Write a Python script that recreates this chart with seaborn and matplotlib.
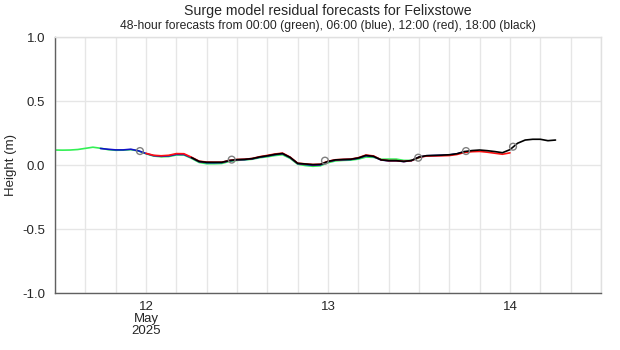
import numpy as np
import pandas as pd
import matplotlib
matplotlib.use("Agg")
import matplotlib.pyplot as plt
import matplotlib.transforms as mtransforms
import seaborn as sns

# --- DATA (hours from 12 May 2025 00:00, height in m) ---
green_start = 0
green_vals = [0.117, 0.116, 0.117, 0.121, 0.130, 0.139, 0.131, 0.120, 0.115, 0.116,
              0.120, 0.110, 0.088, 0.070, 0.064, 0.066, 0.078, 0.078, 0.052, 0.020,
              0.010, 0.010, 0.012, 0.028, 0.036, 0.040, 0.045, 0.057, 0.064, 0.074,
              0.080, 0.052, 0.006, -0.004, -0.010, -0.006, 0.018, 0.032, 0.036, 0.038,
              0.046, 0.062, 0.060, 0.045, 0.046, 0.046, 0.036, 0.036, 0.056]

blue_start = 6
blue_vals = [0.129, 0.123, 0.118, 0.118, 0.123, 0.111, 0.090, 0.073, 0.068, 0.071,
             0.083, 0.082, 0.057, 0.026, 0.018, 0.018, 0.019, 0.033, 0.040, 0.042,
             0.048, 0.061, 0.070, 0.081, 0.088, 0.058, 0.011, 0.004, -0.002, 0.001,
             0.026, 0.038, 0.041, 0.043, 0.053, 0.072, 0.066, 0.039, 0.033, 0.033,
             0.027, 0.034, 0.061, 0.072, 0.074, 0.076, 0.079, 0.087, 0.104]

red_start = 12
red_vals = [0.091, 0.076, 0.072, 0.076, 0.089, 0.088, 0.061, 0.030, 0.023, 0.022,
            0.022, 0.036, 0.043, 0.045, 0.051, 0.065, 0.075, 0.086, 0.093, 0.062,
            0.014, 0.009, 0.004, 0.006, 0.029, 0.041, 0.044, 0.046, 0.057, 0.078,
            0.071, 0.041, 0.034, 0.034, 0.028, 0.034, 0.060, 0.070, 0.071, 0.072,
            0.074, 0.082, 0.098, 0.104, 0.106, 0.100, 0.092, 0.084, 0.095]

black_start = 18
black_vals = [0.058, 0.028, 0.021, 0.021, 0.021, 0.035, 0.042, 0.044, 0.050, 0.063,
              0.072, 0.083, 0.090, 0.060, 0.013, 0.008, 0.003, 0.005, 0.028, 0.040,
              0.043, 0.045, 0.055, 0.075, 0.068, 0.040, 0.034, 0.034, 0.028, 0.035,
              0.062, 0.073, 0.075, 0.077, 0.080, 0.088, 0.105, 0.113, 0.117, 0.112,
              0.105, 0.096, 0.120, 0.170, 0.195, 0.201, 0.201, 0.190, 0.195]

circle_hours = [11.2, 23.3, 35.6, 47.9, 54.2, 60.4]
circle_vals = [0.109, 0.042, 0.034, 0.057, 0.109, 0.143]

day_labels = ["12\nMay\n2025", "13", "14"]
day_label_hours = [12, 36, 60]

series = [
    ("00:00", green_start, green_vals, "#33f055"),
    ("06:00", blue_start, blue_vals, "#1010c8"),
    ("12:00", red_start, red_vals, "#ff1010"),
    ("18:00", black_start, black_vals, "#000000"),
]

frames = []
for name, start, vals, col in series:
    frames.append(pd.DataFrame({"hour": start + np.arange(len(vals)),
                                "height": vals, "run": name}))
df = pd.concat(frames, ignore_index=True)

# --- PLOT ---
sns.set_theme(style="white")
plt.rcParams["font.family"] = ["Liberation Sans", "DejaVu Sans"]

fig = plt.figure(figsize=(6.2, 3.5), dpi=100)
ax = fig.add_axes([55 / 620, 1 - 293 / 350, 546 / 620, 256 / 350])

sns.lineplot(data=df, x="hour", y="height", hue="run",
             palette={s[0]: s[3] for s in series}, linewidth=1.2,
             legend=False, ax=ax, estimator=None, sort=False)
ax.scatter(circle_hours, circle_vals, s=24, facecolors="none",
           edgecolors="#808080", linewidths=1.0, zorder=5)

ax.set_xlim(0, 72)
ax.set_ylim(-1, 1)

# grid every 4 hours / 0.5 m
ax.set_xticks(np.arange(0, 73, 4))
ax.set_xticklabels([])
ax.tick_params(axis="x", which="major", length=0)
ax.set_xticks([0, 24, 48, 72], minor=True)
ax.tick_params(axis="x", which="minor", length=5, color="#606060", width=1)
ax.set_yticks([-1, -0.5, 0, 0.5, 1])
ax.set_yticklabels(["-1.0", "-0.5", "0.0", "0.5", "1.0"], fontsize=9.5)
ax.tick_params(axis="y", length=5, color="#606060", width=1, pad=2)
ax.grid(True, which="major", color="#e6e6e6", linewidth=1.0)
ax.set_axisbelow(True)

for side in ["top", "right"]:
    ax.spines[side].set_color("#e0e0e0")
    ax.spines[side].set_linewidth(1.0)
for side in ["left", "bottom"]:
    ax.spines[side].set_color("#606060")
    ax.spines[side].set_linewidth(1.0)

trans = mtransforms.blended_transform_factory(ax.transData, ax.transAxes)
for h, lab in zip(day_label_hours, day_labels):
    ax.text(h, -0.03, lab, transform=trans, ha="center", va="top",
            fontsize=9.5, linespacing=1.0)

ax.set_xlabel("")
ax.set_ylabel("Height (m)", fontsize=9.5)
ax.yaxis.set_label_coords(-0.07, 0.5)

cx = (55 + 601) / 2 / 620
fig.text(cx, 1 - 11 / 350, "Surge model residual forecasts for Felixstowe",
         ha="center", va="center", fontsize=10.2)
fig.text(cx, 1 - 26 / 350,
         "48-hour forecasts from 00:00 (green), 06:00 (blue), 12:00 (red), 18:00 (black)",
         ha="center", va="center", fontsize=8.7)

fig.savefig("out.png", dpi=100)
